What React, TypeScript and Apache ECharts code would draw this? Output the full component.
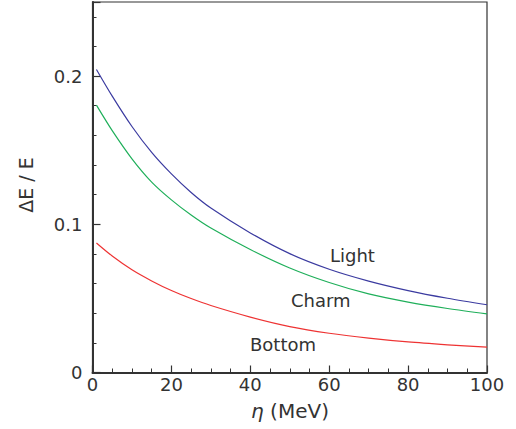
import React, { useEffect, useRef } from "react";
import * as echarts from "echarts";

const eta = [1, 5, 10, 15, 20, 25, 30, 40, 50, 60, 70, 80, 90, 100];
const light = [0.2045, 0.1865, 0.166, 0.1485, 0.134, 0.1215, 0.111, 0.0942, 0.0802, 0.0697, 0.0617, 0.0553, 0.0501, 0.0457];
const charm = [0.1804, 0.1632, 0.1442, 0.1285, 0.1165, 0.1063, 0.0975, 0.083, 0.0705, 0.0607, 0.053, 0.0475, 0.0432, 0.0396];
const bottom = [0.0874, 0.0786, 0.0693, 0.0618, 0.0553, 0.0499, 0.0452, 0.0374, 0.031, 0.0265, 0.0232, 0.0206, 0.0187, 0.0171];
const yLabels = [0, 0.1, 0.2];

const FONT = "DejaVu Sans";

export default function App() {
  const ref = useRef<HTMLDivElement>(null);
  useEffect(() => {
    if (!ref.current) return;
    const chart = echarts.init(ref.current, undefined, { renderer: "svg" });
    const mk = (vals: number[]) => eta.map((x, i) => [x, vals[i]]);
    const lineSeries = (name: string, vals: number[], color: string) => ({
      name,
      type: "line",
      data: mk(vals),
      smooth: 0.3,
      showSymbol: false,
      symbol: "none",
      lineStyle: { color, width: 1.2 },
      xAxisIndex: 0,
      yAxisIndex: 0,
    });
    chart.setOption({
      animation: false,
      grid: {
        left: 92.5,
        right: 29,
        top: 2,
        bottom: 56.5,
        show: true,
        borderColor: "#333",
        borderWidth: 1.2,
        backgroundColor: "transparent",
      },
      xAxis: {
        type: "value",
        min: 0,
        max: 100,
        interval: 20,
        axisLine: { show: true, lineStyle: { color: "#333", width: 2 } },
        axisTick: { show: true, inside: true, length: 7, lineStyle: { color: "#333", width: 1.2 } },
        minorTick: { show: true, splitNumber: 4, length: 4, lineStyle: { color: "#333", width: 1 } },
        splitLine: { show: false },
        axisLabel: { color: "#333", fontFamily: FONT, fontSize: 18, margin: 3 },
      },
      yAxis: [
        {
          type: "value",
          min: 0,
          max: 0.25,
          interval: 0.02,
          axisLine: { show: true, lineStyle: { color: "#333", width: 2 } },
          axisTick: { show: true, inside: true, length: 4, lineStyle: { color: "#333", width: 1 } },
          splitLine: { show: false },
          axisLabel: {
            color: "#333",
            fontFamily: FONT,
            fontSize: 18,
            margin: 10,
            showMaxLabel: false,
            formatter: (v: number) => {
              const hit = yLabels.find((l) => Math.abs(l - v) < 1e-6);
              return hit === undefined ? "" : String(hit);
            },
          },
        },
        {
          type: "value",
          min: 0,
          max: 0.25,
          interval: 0.1,
          position: "left",
          axisLine: { show: false },
          axisTick: { show: true, inside: true, length: 8, lineStyle: { color: "#333", width: 1.2 } },
          splitLine: { show: false },
          axisLabel: { show: false },
        },
      ],
      series: [
        lineSeries("Light", light, "#3b3ba0"),
        lineSeries("Charm", charm, "#1faf5a"),
        lineSeries("Bottom", bottom, "#ee3333"),
      ],
      graphic: [
        {
          type: "text",
          x: 330,
          y: 255,
          style: { text: "Light", fontFamily: FONT, fontSize: 18, fill: "#333", verticalAlign: "middle" },
        },
        {
          type: "text",
          x: 291,
          y: 300,
          style: { text: "Charm", fontFamily: FONT, fontSize: 18, fill: "#333", verticalAlign: "middle" },
        },
        {
          type: "text",
          x: 250,
          y: 344.5,
          style: { text: "Bottom", fontFamily: FONT, fontSize: 18, fill: "#333", verticalAlign: "middle" },
        },
        {
          type: "text",
          x: 290,
          y: 411,
          style: {
            text: "{i|η} (MeV)",
            fontFamily: FONT,
            fontSize: 20,
            fill: "#333",
            align: "center",
            verticalAlign: "middle",
            rich: { i: { fontStyle: "italic", fontFamily: FONT, fontSize: 20, fill: "#333" } },
          },
        },
        {
          type: "text",
          x: 26,
          y: 185,
          rotation: Math.PI / 2,
          style: {
            text: "ΔE / E",
            fontFamily: FONT,
            fontSize: 19,
            fill: "#333",
            align: "center",
            verticalAlign: "middle",
          },
        },
      ],
    });
    return () => chart.dispose();
  }, []);
  return <div ref={ref} style={{ width: 516, height: 429, position: "absolute", left: 0, top: 0 }} />;
}
